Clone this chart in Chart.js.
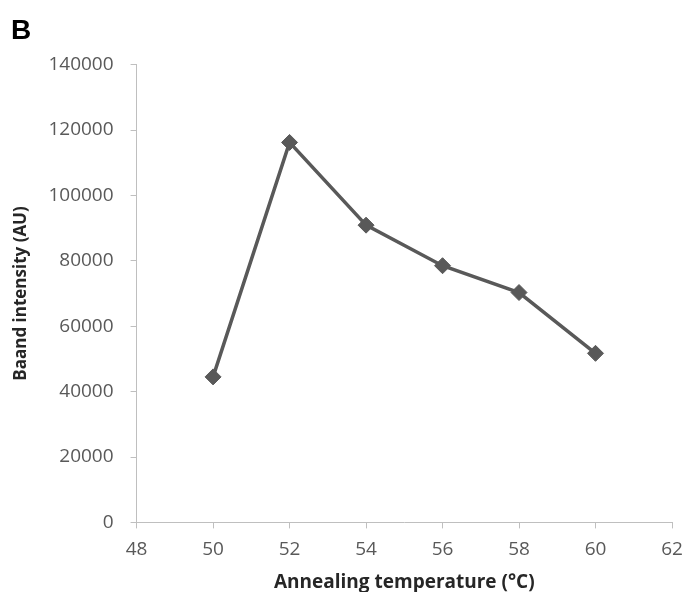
<!DOCTYPE html>
<html>
<head>
<meta charset="utf-8">
<script src="https://cdn.jsdelivr.net/npm/chart.js@4"></script>
<style>
  html, body { margin: 0; padding: 0; background: #fff; }
  #wrap { width: 687px; height: 592px; }
</style>
</head>
<body>
<div id="wrap"><canvas id="lineChart"></canvas></div>
<script>
// data
var temps = [50, 52, 54, 56, 58, 60];
var intensity = [44500, 116200, 90900, 78500, 70300, 51700];
var xTicks = [48, 50, 52, 54, 56, 58, 60, 62];
var yTicks = [0, 20000, 40000, 60000, 80000, 100000, 120000, 140000];

var axisGrey = '#bfbfbf';
var textGrey = '#595959';

var ctx = document.getElementById('lineChart').getContext('2d');
var myChart = new Chart(ctx, {
  type: 'line',
  data: {
    datasets: [{
      data: temps.map(function (t, i) { return { x: t, y: intensity[i] }; }),
      borderColor: '#595959',
      backgroundColor: '#595959',
      borderWidth: 3.5,
      pointStyle: 'rectRot',
      pointRadius: 8,
      pointBorderWidth: 1,
      tension: 0
    }]
  },
  options: {
    responsive: true,
    maintainAspectRatio: false,
    animation: false,
    layout: { padding: { left: 11, right: 0, top: 0, bottom: -2 } },
    plugins: {
      legend: { display: false },
      tooltip: { enabled: false },
      title: {
        display: true,
        text: 'B',
        align: 'start',
        color: '#000',
        font: { family: 'Liberation Sans', size: 28, weight: 'bold' },
        padding: { top: 14, bottom: 17 }
      }
    },
    scales: {
      x: {
        type: 'linear',
        min: 48,
        max: 62,
        afterBuildTicks: function (axis) { axis.ticks = xTicks.map(function (v) { return { value: v }; }); },
        // keep the "62" label close to the right edge like the figure
        afterFit: function (axis) { axis.paddingRight = 15; },
        grid: { drawOnChartArea: false, color: axisGrey, tickLength: 6 },
        border: { color: axisGrey, width: 1 },
        ticks: { color: textGrey, padding: 10, font: { family: 'Open Sans', size: 19 } },
        title: {
          display: true,
          text: 'Annealing temperature (°C)',
          color: '#262626',
          font: { family: 'Open Sans', size: 19, weight: 'bold' },
          padding: { top: 0, bottom: 0 }
        }
      },
      y: {
        min: 0,
        max: 140000,
        afterBuildTicks: function (axis) { axis.ticks = yTicks.map(function (v) { return { value: v }; }); },
        grid: { drawOnChartArea: false, color: axisGrey, tickLength: 6 },
        border: { color: axisGrey, width: 1 },
        ticks: { color: textGrey, padding: 17, font: { family: 'Open Sans', size: 19 },
          callback: function (v) { return String(v); } },
        title: {
          display: true,
          text: 'Baand intensity (AU)',
          color: '#262626',
          font: { family: 'Open Sans', size: 17, weight: 'bold' },
          padding: { top: 0, bottom: 0 }
        }
      }
    }
  }
});
</script>
</body>
</html>
